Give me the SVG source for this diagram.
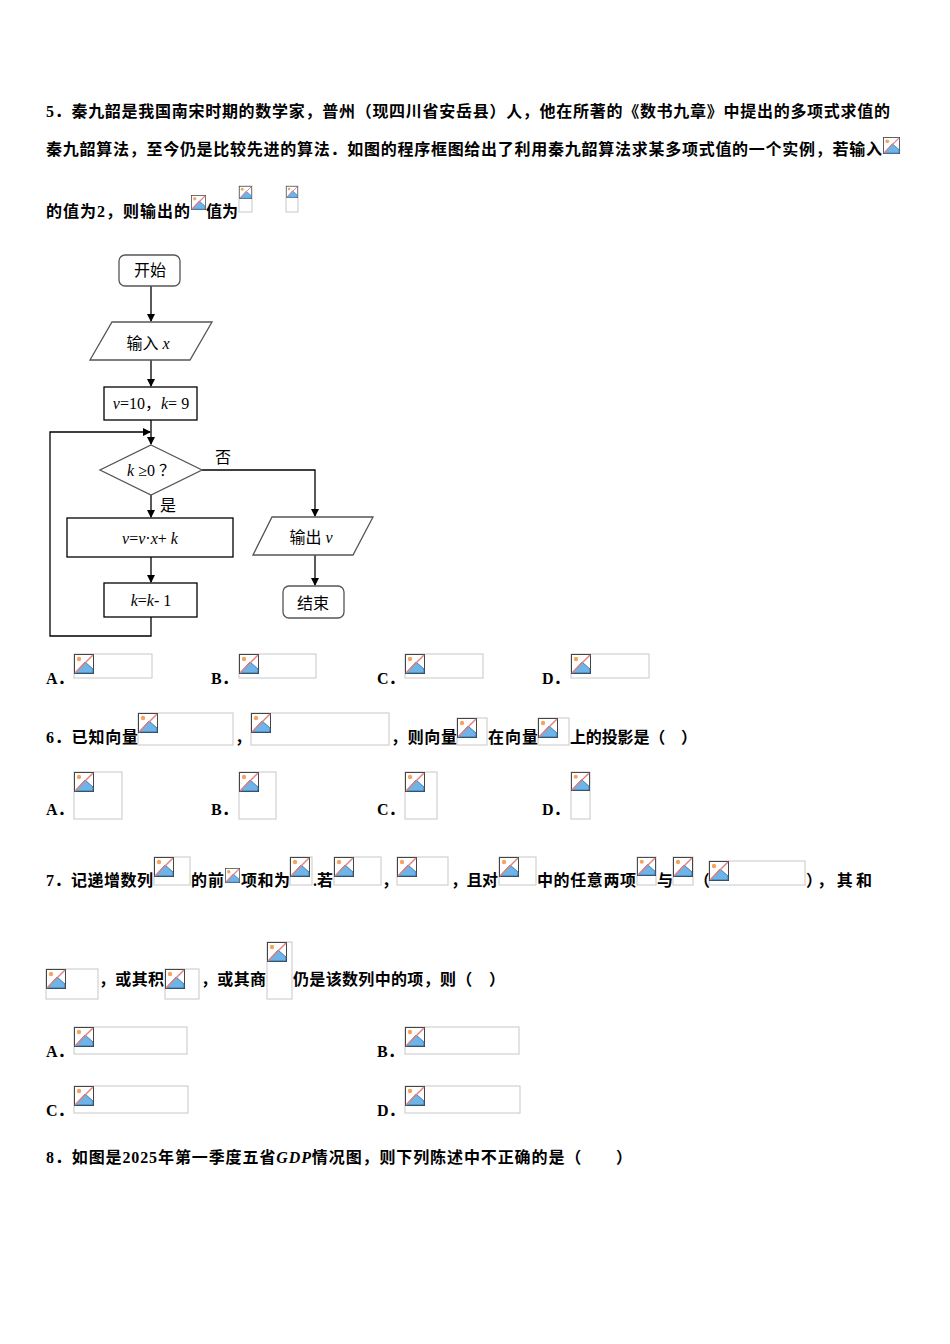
<svg xmlns="http://www.w3.org/2000/svg" xmlns:xlink="http://www.w3.org/1999/xlink" width="950" height="1344" viewBox="0 0 950 1344">
<style>
.t{font-family:"Liberation Serif","Noto Sans CJK SC",serif;font-size:16px;fill:#000;font-weight:bold}
.f{font-family:"Liberation Serif","Noto Sans CJK SC",serif;font-size:16px;fill:#000}
.i{font-style:italic}
.bx{fill:none;stroke:#c8c8c8;stroke-width:1}
.ln{fill:none;stroke:#000;stroke-width:1.3}
.nd{fill:#fff;stroke:#555;stroke-width:1.3}
</style>
<defs>
<symbol id="ic" viewBox="0 0 20 20">
<rect x="0.5" y="0.5" width="19" height="19" fill="#fff" stroke="#444"/>
<circle cx="5" cy="5" r="2.2" fill="#f4a460"/>
<path d="M1 19 L11 8 L19 15 L19 19Z" fill="#6fb4e8" stroke="#2a6aa0" stroke-width="0.8"/>
<path d="M1 19 L19 1" stroke="#e08080" stroke-width="1.5"/>
</symbol>
<marker id="ar" markerWidth="8" markerHeight="8" refX="7" refY="4" orient="auto" markerUnits="userSpaceOnUse"><path d="M0 0 L8 4 L0 8Z" fill="#000"/></marker>
</defs>
<rect width="950" height="1344" fill="#fff"/>
<text class="t" x="46" y="117" textLength="844" lengthAdjust="spacing">5．秦九韶是我国南宋时期的数学家，普州（现四川省安岳县）人，他在所著的《数书九章》中提出的多项式求值的</text>
<text class="t" x="46" y="155" textLength="836" lengthAdjust="spacing">秦九韶算法，至今仍是比较先进的算法．如图的程序框图给出了利用秦九韶算法求某多项式值的一个实例，若输入</text>
<use href="#ic" x="883" y="137" width="17" height="17"/>
<text class="t" x="46" y="217" textLength="144" lengthAdjust="spacing">的值为2，则输出的</text>
<use href="#ic" x="191" y="195" width="15" height="15"/>
<text class="t" x="206" y="217">值为</text>
<rect class="bx" x="239" y="186" width="13" height="26"/><use href="#ic" x="239" y="186" width="13" height="13"/>
<rect class="bx" x="286" y="186" width="12" height="26"/><use href="#ic" x="286" y="186" width="12" height="12"/>

<g id="connectors">
<line class="ln" x1="151" y1="286" x2="151" y2="321" marker-end="url(#ar)"/>
<line class="ln" x1="151" y1="360" x2="151" y2="386" marker-end="url(#ar)"/>
<line class="ln" x1="151" y1="420" x2="151" y2="444" marker-end="url(#ar)"/>
<polyline class="ln" points="151,617 151,636 50,636 50,432 150,432" marker-end="url(#ar)"/>
<polyline class="ln" points="202,470 315,470 315,516" marker-end="url(#ar)"/>
<line class="ln" x1="151" y1="495" x2="151" y2="517" marker-end="url(#ar)"/>
<line class="ln" x1="151" y1="557" x2="151" y2="582" marker-end="url(#ar)"/>
<line class="ln" x1="315" y1="555" x2="315" y2="585" marker-end="url(#ar)"/>
<text class="f" x="215" y="463">否</text>
<text class="f" x="160" y="511">是</text>
</g>
<g id="start"><rect class="nd" x="119" y="255" width="61" height="31" rx="6"/><text class="f" x="150" y="276" text-anchor="middle">开始</text></g>
<g id="input"><polygon class="nd" points="112,322 212,322 190,360 90,360"/><text class="f" x="148" y="349" text-anchor="middle">输入 <tspan class="i">x</tspan></text></g>
<g id="init"><rect class="ln" x="104" y="387" width="93" height="33"/><text class="f" x="151" y="409" text-anchor="middle"><tspan class="i">v</tspan>=10，<tspan class="i">k</tspan>= 9</text></g>
<g id="cond"><polygon class="nd" points="151,445 202,470 151,495 100,470"/><text class="f" x="151" y="476" text-anchor="middle"><tspan class="i">k</tspan>  ≥0  ？</text></g>
<g id="calc"><rect class="ln" x="67" y="518" width="166" height="39"/><text class="f" x="150" y="544" text-anchor="middle"><tspan class="i">v</tspan>=<tspan class="i">v</tspan>·<tspan class="i">x</tspan>+ <tspan class="i">k</tspan></text></g>
<g id="dec"><rect class="ln" x="104" y="583" width="93" height="34"/><text class="f" x="151" y="606" text-anchor="middle"><tspan class="i">k</tspan>=<tspan class="i">k</tspan>- 1</text></g>
<g id="output"><polygon class="nd" points="272,517 373,517 353,555 253,555"/><text class="f" x="311" y="543" text-anchor="middle">输出 <tspan class="i">v</tspan></text></g>
<g id="end"><rect class="nd" x="283" y="586" width="61" height="32" rx="6"/><text class="f" x="313" y="609" text-anchor="middle">结束</text></g>

<text class="t" x="46" y="684">A．</text><rect class="bx" x="74" y="654" width="78" height="24"/><use href="#ic" x="74" y="654" width="20" height="20"/>
<text class="t" x="211" y="684">B．</text><rect class="bx" x="239" y="654" width="77" height="24"/><use href="#ic" x="239" y="654" width="20" height="20"/>
<text class="t" x="377" y="684">C．</text><rect class="bx" x="405" y="654" width="78" height="24"/><use href="#ic" x="405" y="654" width="20" height="20"/>
<text class="t" x="542" y="684">D．</text><rect class="bx" x="571" y="654" width="78" height="24"/><use href="#ic" x="571" y="654" width="20" height="20"/>

<text class="t" x="46" y="743" textLength="92" lengthAdjust="spacing">6．已知向量</text>
<rect class="bx" x="138" y="713" width="95" height="32"/><use href="#ic" x="138" y="713" width="20" height="20"/>
<text class="t" x="235" y="743">，</text>
<rect class="bx" x="251" y="713" width="138" height="32"/><use href="#ic" x="251" y="713" width="20" height="20"/>
<text class="t" x="391" y="743" textLength="66" lengthAdjust="spacing">，则向量</text>
<rect class="bx" x="457" y="718" width="30" height="27"/><use href="#ic" x="457" y="718" width="20" height="20"/>
<text class="t" x="488" y="743" textLength="50" lengthAdjust="spacing">在向量</text>
<rect class="bx" x="538" y="718" width="31" height="27"/><use href="#ic" x="538" y="718" width="20" height="20"/>
<text class="t" x="570" y="743" textLength="127" lengthAdjust="spacing">上的投影是（　）</text>

<text class="t" x="46" y="815">A．</text><rect class="bx" x="74" y="772" width="48" height="47"/><use href="#ic" x="74" y="772" width="20" height="20"/>
<text class="t" x="211" y="815">B．</text><rect class="bx" x="239" y="772" width="37" height="47"/><use href="#ic" x="239" y="772" width="20" height="20"/>
<text class="t" x="377" y="815">C．</text><rect class="bx" x="405" y="772" width="32" height="47"/><use href="#ic" x="405" y="772" width="20" height="20"/>
<text class="t" x="542" y="815">D．</text><rect class="bx" x="571" y="772" width="19" height="47"/><use href="#ic" x="571" y="772" width="19" height="19"/>

<text class="t" x="46" y="886" textLength="107" lengthAdjust="spacing">7．记递增数列</text>
<rect class="bx" x="154" y="857" width="36" height="28"/><use href="#ic" x="154" y="857" width="20" height="20"/>
<text class="t" x="191" y="886" textLength="33" lengthAdjust="spacing">的前</text>
<use href="#ic" x="225" y="868" width="15" height="15"/>
<text class="t" x="241" y="886" textLength="49" lengthAdjust="spacing">项和为</text>
<rect class="bx" x="290" y="857" width="22" height="28"/><use href="#ic" x="290" y="857" width="20" height="20"/>
<text class="t" x="313" y="886">.若</text>
<rect class="bx" x="334" y="857" width="47" height="28"/><use href="#ic" x="334" y="857" width="20" height="20"/>
<text class="t" x="382" y="886">，</text>
<rect class="bx" x="397" y="857" width="51" height="28"/><use href="#ic" x="397" y="857" width="20" height="20"/>
<text class="t" x="451" y="886" textLength="47" lengthAdjust="spacing">，且对</text>
<rect class="bx" x="499" y="857" width="37" height="28"/><use href="#ic" x="499" y="857" width="20" height="20"/>
<text class="t" x="537" y="886" textLength="99" lengthAdjust="spacing">中的任意两项</text>
<rect class="bx" x="637" y="857" width="19" height="28"/><use href="#ic" x="637" y="857" width="19" height="19"/>
<text class="t" x="657" y="886">与</text>
<rect class="bx" x="673" y="857" width="20" height="28"/><use href="#ic" x="673" y="857" width="20" height="20"/>
<text class="t" x="694" y="886">（</text>
<rect class="bx" x="709" y="861" width="96" height="24"/><use href="#ic" x="709" y="861" width="20" height="20"/>
<text class="t" x="806" y="886" textLength="66" lengthAdjust="spacing">），其和</text>

<rect class="bx" x="46" y="969" width="52" height="30"/><use href="#ic" x="46" y="969" width="20" height="20"/>
<text class="t" x="99" y="985" textLength="65" lengthAdjust="spacing">，或其积</text>
<rect class="bx" x="165" y="969" width="34" height="30"/><use href="#ic" x="165" y="969" width="20" height="20"/>
<text class="t" x="201" y="985" textLength="65" lengthAdjust="spacing">，或其商</text>
<rect class="bx" x="267" y="942" width="25" height="57"/><use href="#ic" x="267" y="942" width="20" height="20"/>
<text class="t" x="293" y="985" textLength="212" lengthAdjust="spacing">仍是该数列中的项，则（　）</text>

<text class="t" x="46" y="1057">A．</text><rect class="bx" x="74" y="1027" width="113" height="27"/><use href="#ic" x="74" y="1027" width="20" height="20"/>
<text class="t" x="377" y="1057">B．</text><rect class="bx" x="405" y="1027" width="114" height="27"/><use href="#ic" x="405" y="1027" width="20" height="20"/>
<text class="t" x="46" y="1116">C．</text><rect class="bx" x="74" y="1086" width="114" height="27"/><use href="#ic" x="74" y="1086" width="20" height="20"/>
<text class="t" x="377" y="1116">D．</text><rect class="bx" x="405" y="1086" width="115" height="27"/><use href="#ic" x="405" y="1086" width="20" height="20"/>

<text class="t" x="46" y="1163" textLength="586" lengthAdjust="spacing">8．如图是2025年第一季度五省<tspan class="i">GDP</tspan>情况图，则下列陈述中不正确的是（　　）</text>
</svg>
